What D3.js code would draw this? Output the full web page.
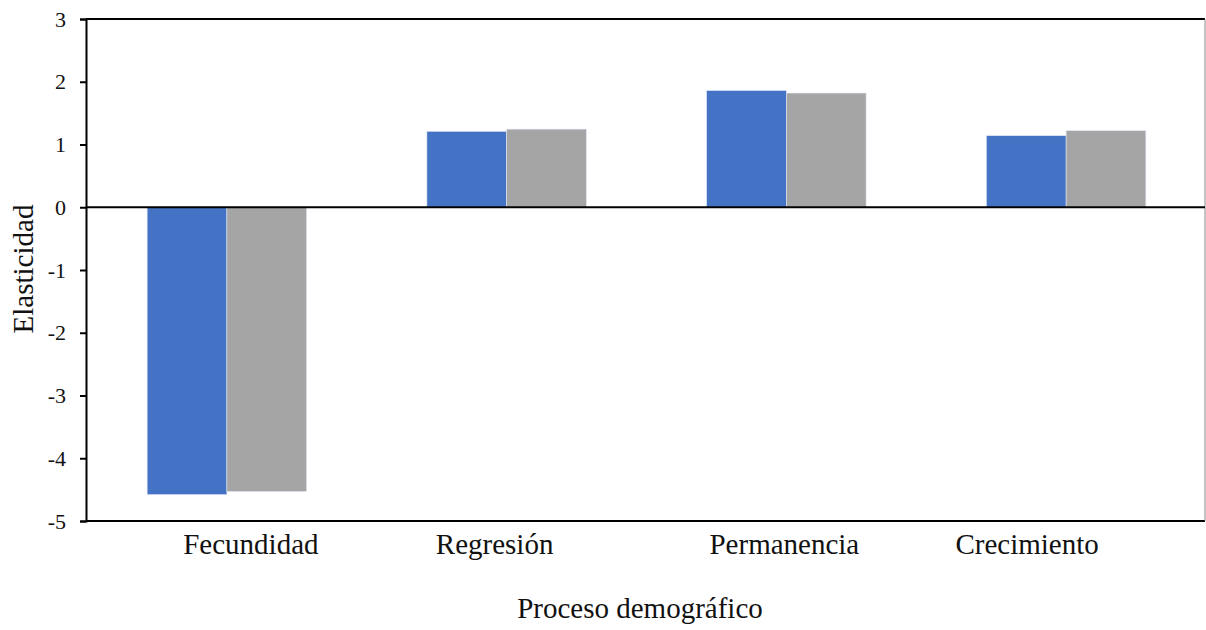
<!DOCTYPE html>
<html>
<head>
    <title>Elasticidad</title>
    <script src="https://d3js.org/d3.v7.min.js"></script>
    <style>
        body { margin: 0; background: #fff; }
        text { font-family: "Liberation Serif", "Times New Roman", serif; fill: #111; }
    </style>
</head>
<body>
    <script>
        // chart data
        const categories = ["Fecundidad", "Regresión", "Permanencia", "Crecimiento"];
        const serieA = [-4.58, 1.21, 1.86, 1.14];   // blue
        const serieB = [-4.53, 1.245, 1.82, 1.22];  // gray
        const yTicks = [-5, -4, -3, -2, -1, 0, 1, 2, 3];

        const width = 1206, height = 630;
        const margin = {top: 19, right: 1, bottom: 109, left: 86};
        const w = width - margin.left - margin.right,
              h = height - margin.top - margin.bottom;

        // labels in the original are not exactly centred under the bars
        const labelShift = [24, -12, -2, -39];

        const svg = d3.select("body").append("svg")
            .attr("width", width)
            .attr("height", height);

        const g = svg.append("g")
            .attr("transform", "translate(" + margin.left + "," + margin.top + ")");

        const x = d3.scaleBand()
            .domain(categories)
            .range([1, w + 1])
            .paddingInner(0.43)
            .paddingOuter(0.215);

        const x1 = d3.scaleBand()
            .domain(["a", "b"])
            .range([0, x.bandwidth()]);

        const y = d3.scaleLinear()
            .domain([-5, 3])
            .range([h, 0]);

        // bars
        const rows = categories.map(function(c, i) {
            return {cat: c, vals: [{k: "a", v: serieA[i]}, {k: "b", v: serieB[i]}]};
        });
        const color = {a: "#4472C4", b: "#A5A5A5"};

        g.selectAll("g.cat")
            .data(rows)
            .enter().append("g")
            .attr("class", "cat")
            .attr("transform", function(d) { return "translate(" + x(d.cat) + ",0)"; })
            .selectAll("rect")
            .data(function(d) { return d.vals; })
            .enter().append("rect")
            .attr("x", function(d) { return x1(d.k); })
            .attr("width", x1.bandwidth())
            .attr("y", function(d) { return y(Math.max(0, d.v)); })
            .attr("height", function(d) { return Math.abs(y(d.v) - y(0)); })
            .attr("fill", function(d) { return color[d.k]; })
            .attr("stroke", "#dfe6f3")
            .attr("stroke-width", 0.6);

        // frame
        g.append("line").attr("x1", 0).attr("x2", w).attr("y1", 0).attr("y2", 0)
            .attr("stroke", "#000").attr("stroke-width", 2);
        g.append("line").attr("x1", 0).attr("x2", w).attr("y1", h).attr("y2", h)
            .attr("stroke", "#000").attr("stroke-width", 2);
        g.append("line").attr("x1", w).attr("x2", w).attr("y1", 0).attr("y2", h)
            .attr("stroke", "#888").attr("stroke-width", 1);

        // zero line
        g.append("line").attr("x1", 0).attr("x2", w).attr("y1", y(0)).attr("y2", y(0))
            .attr("stroke", "#000").attr("stroke-width", 2);

        // y axis (plain hyphen for negatives, like the original)
        const yAxis = g.append("g")
            .call(d3.axisLeft(y).tickValues(yTicks).tickSize(6).tickPadding(14)
                .tickFormat(function(d) { return String(d); }));
        yAxis.select(".domain").attr("stroke", "#000").attr("stroke-width", 2);
        yAxis.selectAll(".tick line").attr("stroke", "#000").attr("stroke-width", 2);
        yAxis.selectAll(".tick text")
            .style("font-family", "Liberation Serif")
            .style("font-size", "22px")
            .attr("fill", "#111");

        // category labels
        g.selectAll("text.cat")
            .data(categories)
            .enter().append("text")
            .attr("class", "cat")
            .attr("x", function(d, i) { return x(d) + x.bandwidth() / 2 + labelShift[i]; })
            .attr("y", h + 33)
            .attr("text-anchor", "middle")
            .style("font-size", "29px")
            .text(function(d) { return d; });

        // axis titles
        svg.append("text")
            .attr("x", 640)
            .attr("y", 618)
            .attr("text-anchor", "middle")
            .style("font-size", "29px")
            .text("Proceso demográfico");

        svg.append("text")
            .attr("transform", "translate(33,269) rotate(-90)")
            .attr("text-anchor", "middle")
            .style("font-size", "29px")
            .text("Elasticidad");
    </script>
</body>
</html>
